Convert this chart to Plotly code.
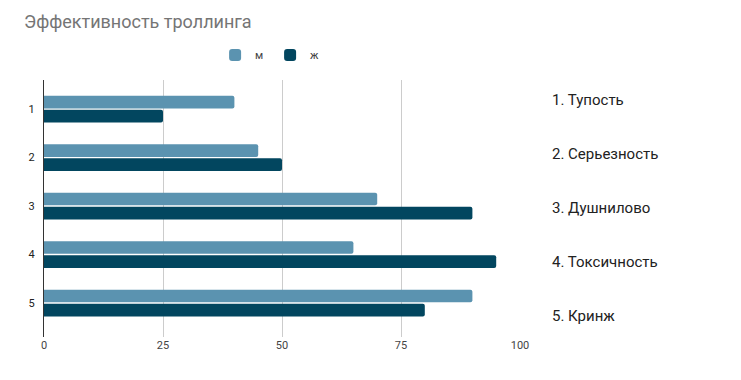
import plotly.graph_objects as go

categories = [1, 2, 3, 4, 5]
values_m = [40, 45, 70, 65, 90]
values_zh = [25, 50, 90, 95, 80]
series_names = ["м", "ж"]
side_labels = ["1. Тупость", "2. Серьезность", "3. Душнилово", "4. Токсичность", "5. Кринж"]
x_ticks = [0, 25, 50, 75, 100]

fig = go.Figure()
fig.add_trace(go.Bar(y=categories, x=values_m, name=series_names[0], orientation="h",
                     marker=dict(color="#5b93b0", line=dict(width=0))))
fig.add_trace(go.Bar(y=categories, x=values_zh, name=series_names[1], orientation="h",
                     marker=dict(color="#02465f", line=dict(width=0))))

label_y = [0.922, 0.712, 0.502, 0.292, 0.082]
for t, yy in zip(side_labels, label_y):
    fig.add_annotation(text=t, xref="paper", yref="paper", x=1.063, y=yy,
                       xanchor="left", yanchor="middle", showarrow=False,
                       font=dict(family="Roboto", size=15, color="#222222"))

W, H = 733, 372
fig.update_layout(
    width=W, height=H,
    margin=dict(l=36, r=221, t=72, b=43),
    paper_bgcolor="white", plot_bgcolor="white",
    barmode="group", bargap=0.42, bargroupgap=0.1, barcornerradius=2,
    title=dict(text="Эффективность троллинга", x=16/W, xanchor="left",
               y=1 - 14/H, yanchor="middle",
               font=dict(family="Roboto", size=18, color="#757575")),
    legend=dict(orientation="h", x=0.475, xanchor="center", y=1.097, yanchor="middle",
                font=dict(family="Roboto", size=11, color="#444444"),
                itemwidth=30, traceorder="normal", entrywidth=10, entrywidthmode="pixels"),
    font=dict(family="Roboto"),
)
fig.update_xaxes(range=[0, 100], tickvals=x_ticks, ticktext=[str(v) for v in x_ticks],
                 showgrid=True, gridcolor="#cccccc", gridwidth=1, zeroline=False,
                 showline=False, ticks="", tickfont=dict(size=11, color="#444444"))
fig.update_yaxes(range=[5.7, 0.4], tickvals=categories, ticktext=[str(c) for c in categories],
                 showgrid=False, zeroline=False, showline=True, linecolor="#333333",
                 linewidth=1, ticks="", ticklabelstandoff=6,
                 tickfont=dict(size=11, color="#222222"))

fig.write_html("out.html")
